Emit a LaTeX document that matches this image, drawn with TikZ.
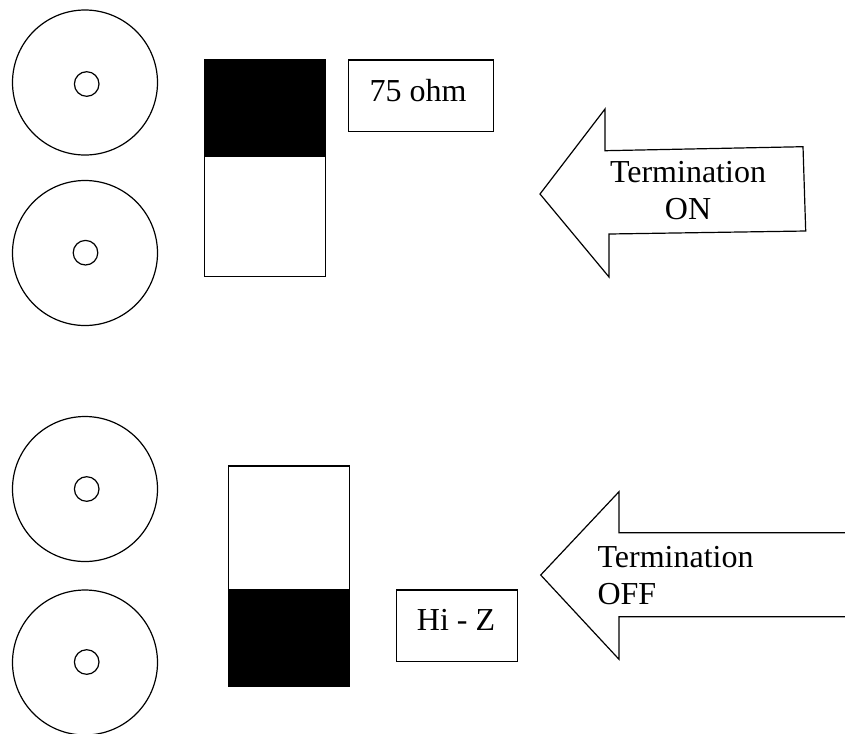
\documentclass[tikz,border=0pt]{standalone}
\usepackage{fontspec}
\setmainfont{Liberation Serif}
\def\upx{0.75pt}
\tikzset{
  outline/.style={draw=black, line width=0.9pt},
  jack/.style={outline, circle, inner sep=0pt, minimum size=145*\upx},
  pin/.style={outline, circle, inner sep=0pt, minimum size=24.6*\upx},
  labelbox/.style={outline, rectangle, inner sep=0pt, font=\fontsize{24}{27.75}\selectfont},
  arrowtext/.style={inner sep=0pt, font=\fontsize{24}{27.75}\selectfont},
  blackhalf/.style={fill=black},
}
\begin{document}
\begin{tikzpicture}[x=0.75pt, y=-0.75pt, line join=miter]
\clip (0,0) rectangle (845,733);
\fill[white] (0,0) rectangle (845,733);

% ---- upper panel: termination on ----
\node[jack] (jackA) at (85,82.5) {};
\node[pin]  (pinA)  at (86.7,84) {};
\node[jack] (jackB) at (85,253) {};
\node[pin]  (pinB)  at (85.5,252.7) {};

% slide switch, lever up
\fill[blackhalf] (204.3,59.3) rectangle (325.7,156.7);
\draw[outline] (204.3,59.3) rectangle (325.7,276.7);

\node[labelbox, minimum width=145*\upx, minimum height=71.7*\upx] (ohm) at (420.8,95.8) {};
\node[arrowtext, anchor=base] (ohmtext) at (418,101.7) {75 ohm};

% block arrow pointing left
\draw[outline] (540,194) -- (605,109) -- (605,150.7) -- (803,146.7)
  -- (805.7,231) -- (609,234) -- (609,277) -- cycle;
\node[arrowtext, align=center] (termon) at (688,190.7) {Termination\\ON};

% ---- lower panel: termination off ----
\node[jack] (jackC) at (85,489) {};
\node[pin]  (pinC)  at (86.7,489) {};
\node[jack] (jackD) at (85,662.5) {};
\node[pin]  (pinD)  at (86.7,662) {};

% slide switch, lever down
\fill[blackhalf] (228.3,589) rectangle (349.3,686.7);
\draw[outline] (228.3,466) rectangle (349.3,686.7);

\node[labelbox, minimum width=120.6*\upx, minimum height=71.7*\upx] (hiz) at (457,625.8) {};
\node[arrowtext, anchor=base] (hiztext) at (456,630.7) {Hi - Z};

% block arrow running off the right edge
\draw[outline] (860,532.7) -- (619,532.7) -- (619,491.7) -- (540.7,575)
  -- (619,659.3) -- (619,616.7) -- (860,616.7);
\node[arrowtext, align=left, anchor=west] (termoff) at (597.3,575.7) {Termination\\OFF};
\end{tikzpicture}
\end{document}
